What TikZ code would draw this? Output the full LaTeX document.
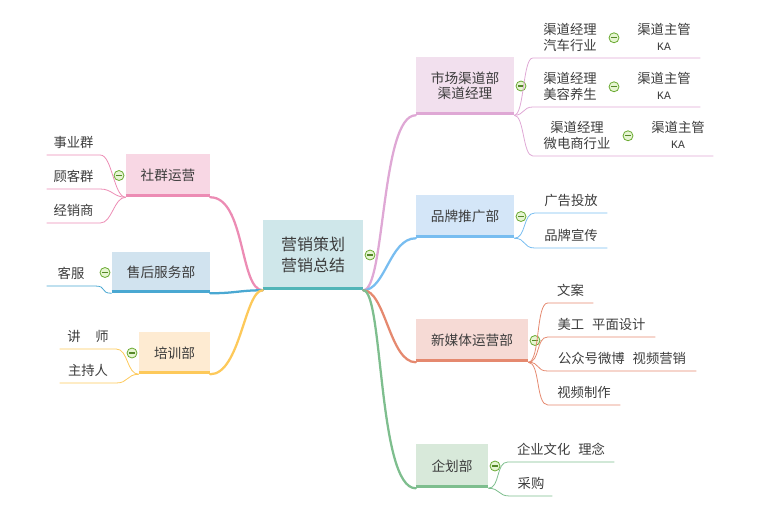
\documentclass[tikz,border=0pt]{standalone}
\usepackage{fontspec}
\setmainfont{Noto Sans CJK SC}
\setmonofont{Liberation Mono}
\usepackage{xcolor}
\definecolor{ink}       {HTML}{3C3C3C}
\definecolor{rootFill}  {HTML}{CFE7EA}
\definecolor{rootLine}  {HTML}{52B5B8}
\definecolor{mktFill}   {HTML}{F2E0EE}
\definecolor{mktLine}   {HTML}{DFA8D5}
\definecolor{brandFill} {HTML}{D4E6F8}
\definecolor{brandLine} {HTML}{78BDF0}
\definecolor{mediaFill} {HTML}{F6DAD5}
\definecolor{mediaLine} {HTML}{E5896F}
\definecolor{planFill}  {HTML}{D8E9DA}
\definecolor{planLine}  {HTML}{7EBE8E}
\definecolor{socFill}   {HTML}{F8D7E4}
\definecolor{socLine}   {HTML}{EC8CB4}
\definecolor{careFill}  {HTML}{D1E3EF}
\definecolor{careLine}  {HTML}{4AA8D2}
\definecolor{trainFill} {HTML}{FEEBD2}
\definecolor{trainLine} {HTML}{FDC95A}
\definecolor{toggleRim} {HTML}{6AAA32}
\definecolor{toggleFill}{HTML}{E6F5D2}
\usetikzlibrary{positioning}
\newcommand\kafont{\ttfamily\fontsize{8.5}{9}\selectfont}
\tikzset{
    dims/.style 2 args={minimum width=#1*0.75pt, minimum height=#2*0.75pt},
    uw/.style={minimum width=#1*0.75pt},
    topic/.style={fill=#1Fill, text=ink, align=center, inner sep=0pt,
                  font=\fontsize{10.25}{11.5}\selectfont},
    rootbox/.style={topic=root, font=\fontsize{12}{15.5}\selectfont},
    bar/.style={line width=2.25pt, #1Line},
    leaf/.style={anchor=south, text=ink, align=center, inner xsep=0pt,
                 inner ysep=4.25pt, text depth=1.5pt,
                 font=\fontsize{10}{11.5}\selectfont},
    toggle/.style={circle, draw=toggleRim, fill=toggleFill, line width=0.6pt,
                   minimum size=7.5pt, inner sep=0pt,
                   path picture={\draw[toggleRim!80!black, line width=0.9pt]
                     ([xshift=-2.2pt]path picture bounding box.center) --
                     ([xshift=2.2pt]path picture bounding box.center);}},
    branch/.style={line width=1.7pt, #1Line, line cap=round},
    twig/.style={line width=0.6pt, #1Line},
}
\begin{document}
\begin{tikzpicture}[x=0.75pt, y=-0.75pt]
    \useasboundingbox (0,0) rectangle (760,518);
    % root
    \node[rootbox, dims={100}{70}] (root) at (313,255) {营销策划\\营销总结};
    \node[toggle, right=1pt of root] (tRoot) {};
    % topics, right side
    \node[topic=mkt, dims={98}{58}] (mkt) at (465,86) {市场渠道部\\渠道经理};
    \node[topic=brand, dims={98}{43}] (brand) at (465,216.5) {品牌推广部};
    \node[topic=media, dims={112}{43}] (media) at (472,340.5) {新媒体运营部};
    \node[topic=plan, dims={72}{44}] (plan) at (452,466) {企划部};
    % topics, left side
    \node[topic=soc, dims={84}{43}] (soc) at (168,175.5) {社群运营};
    \node[topic=care, dims={98}{41}] (care) at (161,272.5) {售后服务部};
    \node[topic=train, dims={71}{42}] (train) at (174.5,353) {培训部};
    \foreach \t in {mkt, brand, media, plan}
        \node[toggle, right=1pt of \t] (t\t) {};
    \foreach \t in {soc, care, train}
        \node[toggle, left=1pt of \t] (t\t) {};
    % bars under the boxes
    \foreach \t in {root, mkt, brand, media, plan, soc, care, train}
        \draw[bar=\t] ([yshift=1.1pt]\t.south west) -- ([yshift=1.1pt]\t.south east);

    % main branches
    \draw[branch=mkt] (root.south east) .. controls +(22,0) and +(-35,0) .. (mkt.south west);
    \draw[branch=brand] (root.south east) .. controls +(22,0) and +(-26,0) .. (brand.south west);
    \draw[branch=media] (root.south east) .. controls +(22,0) and +(-26,0) .. (media.south west);
    \draw[branch=plan] (root.south east) .. controls +(20,0) and +(-38,0) .. (plan.south west);
    \draw[branch=soc] (root.south west) .. controls +(-23,0) and +(35,0) .. (soc.south east);
    \draw[branch=care] (root.south west) .. controls +(-23,0) and +(25,0) .. (care.south east);
    \draw[branch=train] (root.south west) .. controls +(-18,0) and +(30,0) .. (train.south east);

    % market channel rows
    \node[leaf, uw=74] (r1) at (570,58) {渠道经理\\汽车行业};
    \node[leaf, uw=72] (r1ka) at (664,58) {渠道主管\\{\kafont KA}};
    \node[leaf, uw=74] (r2) at (570,107) {渠道经理\\美容养生};
    \node[leaf, uw=72] (r2ka) at (664,107) {渠道主管\\{\kafont KA}};
    \node[leaf, uw=88] (r3) at (577,156) {渠道经理\\微电商行业};
    \node[leaf, uw=70] (r3ka) at (678,156) {渠道主管\\{\kafont KA}};
    \foreach \r in {r1, r2, r3} {
        \node[toggle, right=1pt of \r] (t\r) {};
        \draw[twig=mkt] (mkt.south east) .. controls +(10,0) and +(-10,0) .. (\r.south west)
            -- (\r.south east) -- (\r ka.south west) -- (\r ka.south east);
    }

    % brand
    \node[leaf, uw=72] (ad) at (571,213) {广告投放};
    \node[leaf, uw=72] (pr) at (571,248) {品牌宣传};
    % new media
    \node[leaf, uw=45] (copy) at (570.5,303) {文案};
    \node[leaf, uw=107] (art) at (601.5,337) {美工\hspace{0.6em}平面设计};
    \node[leaf, uw=148] (wechat) at (622,371) {公众号微博\hspace{0.6em}视频营销};
    \node[leaf, uw=72] (video) at (584,405) {视频制作};
    % planning
    \node[leaf, uw=106] (culture) at (561,462) {企业文化\hspace{0.6em}理念};
    \node[leaf, uw=42] (buy) at (531,496) {采购};
    \foreach \p/\l in {brand/ad, brand/pr, media/copy, media/art, media/wechat,
                       media/video, plan/culture, plan/buy}
        \draw[twig=\p] (\p.south east) .. controls +(12,0) and +(-12,0) .. (\l.south west)
            -- (\l.south east);

    % left leaves
    \node[leaf, uw=53] (biz) at (73.5,155) {事业群};
    \node[leaf, uw=53] (cust) at (73.5,189) {顾客群};
    \node[leaf, uw=53] (dealer) at (73.5,223) {经销商};
    \node[leaf, uw=48] (svc) at (71,286) {客服};
    \node[leaf, uw=56] (lect) at (88,349) {讲\hspace{1.1em}师};
    \node[leaf, uw=56] (host) at (88,383) {主持人};
    \foreach \p/\l in {soc/biz, soc/cust, soc/dealer, care/svc, train/lect, train/host}
        \draw[twig=\p] (\p.south west) .. controls +(-12,0) and +(12,0) .. (\l.south east)
            -- (\l.south west);
\end{tikzpicture}
\end{document}
